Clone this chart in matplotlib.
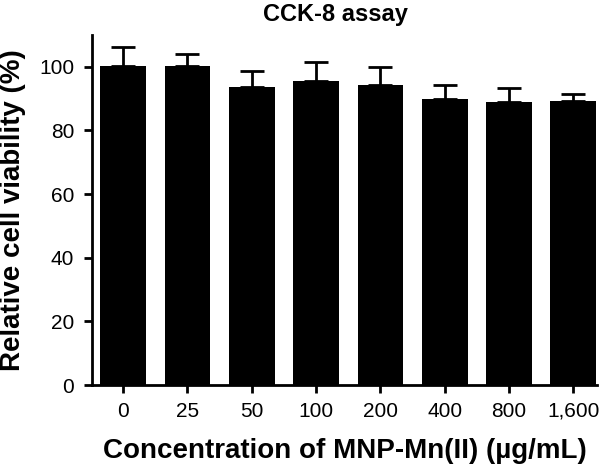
import matplotlib
matplotlib.use("Agg")
import matplotlib.pyplot as plt

# data
concentrations = ["0", "25", "50", "100", "200", "400", "800", "1,600"]
viability = [100.2, 100.2, 93.6, 95.7, 94.2, 89.9, 89.1, 89.3]
sd = [5.9, 3.9, 5.2, 5.7, 5.6, 4.4, 4.2, 2.1]

plt.rcParams['font.family'] = ['Liberation Sans', 'DejaVu Sans']

fig = plt.figure(figsize=(6.06, 4.65), dpi=100)
ax = fig.add_axes([0.1523, 0.172, 0.833, 0.7527])

x = list(range(len(concentrations)))
ax.bar(x, viability, width=0.71, color="black",
       yerr=[[0] * len(sd), sd], capsize=8.5,
       error_kw=dict(ecolor="black", elinewidth=2, capthick=2))

ax.set_xlim(-0.48, 7.37)
ax.set_ylim(0, 110)
ax.set_yticks([0, 20, 40, 60, 80, 100])
ax.set_xticks(x)
ax.set_xticklabels(concentrations)

for side in ("top", "right"):
    ax.spines[side].set_visible(False)
for side in ("left", "bottom"):
    ax.spines[side].set_linewidth(2)
ax.tick_params(axis="both", width=2, length=6, labelsize=15)
ax.tick_params(axis="y", pad=7)
ax.tick_params(axis="x", pad=6)

ax.set_xlabel("Concentration of MNP-Mn(II) (\u00b5g/mL)", fontsize=20,
              fontweight="bold", va="baseline")
ax.xaxis.set_label_coords(0.5, -0.2086)
ax.set_ylabel("Relative cell viability (%)", fontsize=20,
              fontweight="bold", va="center")
ax.yaxis.set_label_coords(-0.158, 0.5)
fig.text(0.553, 0.9555, "CCK-8 assay", ha="center", va="baseline",
         fontsize=17, fontweight="bold")

fig.savefig("out.png", dpi=100)
